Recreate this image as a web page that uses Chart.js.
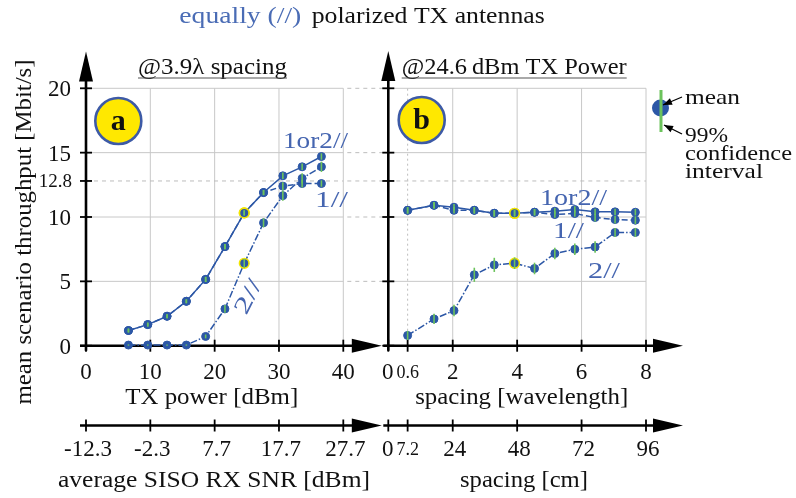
<!DOCTYPE html>
<html><head><meta charset="utf-8">
<script src="https://cdn.jsdelivr.net/npm/chart.js@4"></script>
<style>body{margin:0;background:#fff}#wrap{position:relative;width:796px;height:498px}canvas{position:absolute;left:0;top:0}</style>
</head><body>
<div id="wrap"><canvas id="c1" width="796" height="498"></canvas><canvas id="c2" width="796" height="498"></canvas></div>
<script>
// ---------- data ----------
const txPower = [6.6, 9.6, 12.6, 15.6, 18.6, 21.6, 24.6, 27.6, 30.6, 33.6, 36.6];
const tx1or2  = [1.18, 1.64, 2.29, 3.45, 5.15, 7.7, 10.32, 11.9, 13.2, 13.9, 14.7];
const tx1     = [1.18, 1.64, 2.29, 3.45, 5.15, 7.7, 10.32, 11.9, 12.4, 12.6, 12.6];
const tx2     = [0.05, 0.05, 0.05, 0.05, 0.72, 2.86, 6.4, 9.55, 11.66, 13.0, 13.9];
const txCi1or2 = [0.15, 0.15, 0.15, 0.15, 0.2, 0.2, 0.2, 0.2, 0.25, 0.25, 0.25];
const txCi1    = [0.15, 0.15, 0.15, 0.15, 0.2, 0.2, 0.2, 0.2, 0.3, 0.3, 0.25];
const txCi2    = [0.05, 0.05, 0.05, 0.05, 0.15, 0.3, 0.35, 0.35, 0.4, 0.4, 0.4];

const spacingLambda = [0.6, 1.42, 2.04, 2.67, 3.29, 3.92, 4.54, 5.17, 5.79, 6.42, 7.04, 7.67];
const sp1or2 = [10.52, 10.91, 10.76, 10.52, 10.29, 10.29, 10.37, 10.45, 10.58, 10.4, 10.4, 10.37];
const sp1    = [10.52, 10.91, 10.52, 10.52, 10.29, 10.29, 10.37, 10.19, 10.27, 9.96, 9.8, 9.75];
const sp2    = [0.8, 2.08, 2.73, 5.51, 6.28, 6.41, 6.0, 7.16, 7.49, 7.67, 8.8, 8.8];
const spCi1or2 = [0.25, 0.25, 0.25, 0.25, 0.25, 0.25, 0.25, 0.25, 0.25, 0.25, 0.25, 0.25];
const spCi1    = [0.25, 0.25, 0.25, 0.25, 0.25, 0.25, 0.25, 0.25, 0.25, 0.3, 0.3, 0.3];
const spCi2    = [0.35, 0.4, 0.45, 0.55, 0.55, 0.45, 0.45, 0.45, 0.45, 0.45, 0.35, 0.35];

const highlightTx = 24.6;
const highlightLambda = 3.92;

const txTicks = [0, 10, 20, 30, 40];
const snrTicks = [-12.3, -2.3, 7.7, 17.7, 27.7];
const snrOffset = 12.3;
const yTicks = [0, 5, 10, 15, 20];
const yRef = 12.8;
const lambdaTicks = [0, 0.6, 2, 4, 6, 8];
const cmTicks = [0, 7.2, 24, 48, 72, 96];
const cmPerLambda = 12;

// ---------- styles ----------
const BLUE = '#2c57a6', LBLUE = '#4565b0', GREEN = '#6cc35c', YEL = '#f2e600', GRID = '#c8c8c8';
const FONT = '"Liberation Serif", "DejaVu Serif", serif';

function txt(ctx, s, x, y, o = {}) {
  ctx.save();
  ctx.font = (o.style || '') + ' ' + (o.size || 23) + 'px ' + FONT;
  ctx.fillStyle = o.color || '#111';
  ctx.textBaseline = o.base || 'alphabetic';
  const w = ctx.measureText(s).width;
  const sx = o.w ? o.w / w : (o.sx || 1);
  ctx.translate(x, y);
  if (o.rot) ctx.rotate(o.rot);
  ctx.scale(sx, 1);
  ctx.textAlign = o.align || 'center';
  ctx.fillText(s, 0, 0);
  ctx.restore();
}
function line(ctx, x1, y1, x2, y2) { ctx.beginPath(); ctx.moveTo(x1, y1); ctx.lineTo(x2, y2); ctx.stroke(); }
function hAxis(ctx, x1, tip, y) {
  ctx.save(); ctx.strokeStyle = '#000'; ctx.fillStyle = '#000'; ctx.lineWidth = 2.6;
  line(ctx, x1, y, tip - 26, y);
  ctx.beginPath(); ctx.moveTo(tip, y); ctx.lineTo(tip - 30, y - 7); ctx.lineTo(tip - 30, y + 7); ctx.closePath(); ctx.fill();
  ctx.restore();
}
function vAxis(ctx, x, y1, tip) {
  ctx.save(); ctx.strokeStyle = '#000'; ctx.fillStyle = '#000'; ctx.lineWidth = 2.6;
  line(ctx, x, y1, x, tip + 26);
  ctx.beginPath(); ctx.moveTo(x, tip); ctx.lineTo(x - 7, tip + 30); ctx.lineTo(x + 7, tip + 30); ctx.closePath(); ctx.fill();
  ctx.restore();
}
function tickV(ctx, x, y) { ctx.save(); ctx.strokeStyle = '#000'; ctx.lineWidth = 1.8; line(ctx, x, y - 6, x, y + 6); ctx.restore(); }
function tickH(ctx, x, y) { ctx.save(); ctx.strokeStyle = '#000'; ctx.lineWidth = 1.8; line(ctx, x - 6, y, x + 6, y); ctx.restore(); }
function badge(ctx, cx, cy, letter) {
  ctx.save(); ctx.beginPath(); ctx.arc(cx, cy, 23, 0, Math.PI * 2);
  ctx.fillStyle = '#ffe800'; ctx.fill(); ctx.lineWidth = 2.6; ctx.strokeStyle = '#3d5aa6'; ctx.stroke(); ctx.restore();
  txt(ctx, letter, cx, cy + 9, { size: 30, style: 'bold', color: '#111' });
}

function ds(xs, ys, ci, dash, hl) {
  return {
    data: xs.map((v, i) => ({ x: v, y: ys[i] })),
    ci: ci,
    borderColor: BLUE, backgroundColor: BLUE, borderWidth: 1.5, borderDash: dash,
    pointRadius: xs.map(v => v === hl ? 4.8 : 4),
    pointBorderWidth: xs.map(v => v === hl ? 1.6 : 1),
    pointBorderColor: xs.map(v => v === hl ? YEL : BLUE),
    pointBackgroundColor: BLUE, clip: false, tension: 0
  };
}
const errorBars = {
  id: 'errorBars',
  afterDatasetsDraw(chart) {
    const ctx = chart.ctx, ys = chart.scales.y;
    ctx.save(); ctx.strokeStyle = GREEN; ctx.lineWidth = 1.6;
    chart.data.datasets.forEach((d, i) => {
      chart.getDatasetMeta(i).data.forEach((p, j) => {
        const v = d.data[j].y, c = d.ci[j];
        line(ctx, p.x, ys.getPixelForValue(v - c), p.x, ys.getPixelForValue(v + c));
      });
    });
    ctx.restore();
  }
};
const baseOpts = (pad, xmax) => ({
  responsive: false, animation: false, events: [], devicePixelRatio: 1,
  layout: { padding: pad },
  plugins: { legend: { display: false }, tooltip: { enabled: false } },
  scales: { x: { type: 'linear', min: 0, max: xmax, display: false }, y: { type: 'linear', min: 0, max: 20, display: false } }
});

// ---------- left chart ----------
const leftDeco = {
  id: 'leftDeco',
  beforeDatasetsDraw(chart) {
    const ctx = chart.ctx, X = v => chart.scales.x.getPixelForValue(v), Y = v => chart.scales.y.getPixelForValue(v);
    const xmax = txTicks[txTicks.length - 1], ymax = yTicks[yTicks.length - 1];
    ctx.save(); ctx.strokeStyle = GRID; ctx.lineWidth = 1;
    txTicks.slice(1).forEach(v => line(ctx, X(v), Y(0), X(v), Y(ymax)));
    yTicks.slice(1).forEach(v => line(ctx, X(0), Y(v), X(xmax), Y(v)));
    ctx.setLineDash([4, 4]); ctx.strokeStyle = '#bdbdbd';
    line(ctx, X(0), Y(yRef), X(xmax), Y(yRef));
    ctx.restore();
    // axes
    const tipX = X(xmax) + 38.5;
    hAxis(ctx, X(0) - 6, tipX, Y(0));
    vAxis(ctx, X(0), Y(0) + 5, 51.5);
    txTicks.forEach(v => { tickV(ctx, X(v), Y(0)); txt(ctx, String(v), X(v), 379, { size: 23 }); });
    [...yTicks, yRef].forEach(v => tickH(ctx, X(0), Y(v)));
    yTicks.forEach(v => txt(ctx, String(v), 71, Y(v) + 8, { size: 23, align: 'right' }));
    txt(ctx, yRef.toFixed(1), 72, Y(yRef) + 6.5, { size: 19, align: 'right' });
    // secondary SNR axis
    const y2 = 425.5;
    hAxis(ctx, X(0) - 6, tipX, y2);
    snrTicks.forEach(v => { tickV(ctx, X(v + snrOffset), y2); txt(ctx, v.toFixed(1), X(v + snrOffset) + 2, 455.5, { size: 23 }); });
    txt(ctx, 'TX power [dBm]', 211.7, 403.5, { w: 173 });
    txt(ctx, 'average SISO RX SNR [dBm]', 214, 486.5, { w: 312 });
    // y title
    txt(ctx, 'mean scenario throughput [Mbit/s]', 31, 232, { w: 345, rot: -Math.PI / 2 });
    // titles
    txt(ctx, 'equally (//)', 179.3, 23, { w: 122, align: 'left', color: '#4a6cb5' });
    txt(ctx, 'polarized TX antennas', 311.7, 23, { w: 233, align: 'left' });
    txt(ctx, '@3.9\u03bb spacing', 138, 73.5, { w: 149, align: 'left' });
    ctx.save(); ctx.strokeStyle = '#555'; ctx.lineWidth = 1.2; line(ctx, 138, 78, 287, 78); ctx.restore();
  },
  afterDraw(chart) {
    const ctx = chart.ctx;
    badge(ctx, 118.3, 121, 'a');
    txt(ctx, '1or2//', 283, 148, { w: 65, align: 'left', color: LBLUE });
    txt(ctx, '1//', 315, 206.5, { w: 33, align: 'left', color: LBLUE });
    txt(ctx, '2//', 249, 297, { w: 36, base: 'middle', rot: -1.1, color: LBLUE });
  }
};
const leftChart = new Chart(document.getElementById('c1'), {
  type: 'line',
  data: { datasets: [ds(txPower, tx2, txCi2, [7, 2, 1.5, 2], highlightTx), ds(txPower, tx1, txCi1, [6, 3], highlightTx), ds(txPower, tx1or2, txCi1or2, [], highlightTx)] },
  options: baseOpts({ left: 86, right: 796 - 343.3, top: 88.3, bottom: 498 - 345.7 }, 40),
  plugins: [leftDeco, errorBars]
});

// ---------- right chart ----------
const rightDeco = {
  id: 'rightDeco',
  beforeDatasetsDraw(chart) {
    const ctx = chart.ctx, X = v => chart.scales.x.getPixelForValue(v), Y = v => chart.scales.y.getPixelForValue(v);
    const xmax = lambdaTicks[lambdaTicks.length - 1], ymax = yTicks[yTicks.length - 1];
    const lx40 = leftChart.scales.x.getPixelForValue(txTicks[txTicks.length - 1]);
    ctx.save(); ctx.strokeStyle = GRID; ctx.lineWidth = 1;
    lambdaTicks.slice(2).forEach(v => line(ctx, X(v), Y(0), X(v), Y(ymax)));
    yTicks.slice(1).forEach(v => line(ctx, X(0), Y(v), X(xmax), Y(v)));
    ctx.setLineDash([4, 4]); ctx.strokeStyle = '#bdbdbd';
    line(ctx, X(0), Y(yRef), X(xmax), Y(yRef));
    [...yTicks.slice(1), yRef].forEach(v => line(ctx, lx40 + 4, Y(v), X(0), Y(v)));
    ctx.setLineDash([2, 3]);
    line(ctx, X(lambdaTicks[1]), Y(0), X(lambdaTicks[1]), Y(ymax));
    ctx.restore();
    const tipX = X(xmax) + 37;
    hAxis(ctx, X(0) - 5, tipX, Y(0));
    vAxis(ctx, X(0), Y(0) + 5, 51);
    lambdaTicks.forEach(v => {
      tickV(ctx, X(v), Y(0));
      if (v % 1 === 0) txt(ctx, String(v), X(v) - (v === 0 ? 0.5 : 0), 379, { size: 23 });
      else txt(ctx, String(v), X(v), 378, { size: 18 });
    });
    [...yTicks, yRef].forEach(v => tickH(ctx, X(0), Y(v)));
    const y2 = 425.5;
    hAxis(ctx, X(0) - 5, tipX, y2);
    cmTicks.forEach(v => {
      tickV(ctx, X(v / cmPerLambda), y2);
      if (v % 1 === 0) txt(ctx, String(v), X(v / cmPerLambda) - (v === 0 ? 0.5 : 0) + (v > 0 ? 2 : 0), 455.5, { size: 23 });
      else txt(ctx, v.toFixed(1), X(v / cmPerLambda), 454.5, { size: 18 });
    });
    txt(ctx, 'spacing [wavelength]', 521.7, 403.5, { w: 213 });
    txt(ctx, 'spacing [cm]', 524, 486.5, { w: 128 });
    txt(ctx, '@24.6\u2009dBm TX Power', 401.7, 73.5, { w: 225, align: 'left' });
    ctx.save(); ctx.strokeStyle = '#555'; ctx.lineWidth = 1.2; line(ctx, 401.7, 78, 626.7, 78); ctx.restore();
  },
  afterDraw(chart) {
    const ctx = chart.ctx;
    badge(ctx, 421.7, 120, 'b');
    txt(ctx, '1or2//', 540, 205, { w: 67, align: 'left', color: LBLUE });
    txt(ctx, '1//', 553, 238, { w: 31, align: 'left', color: LBLUE });
    txt(ctx, '2//', 588, 278, { w: 32, align: 'left', color: LBLUE });
    // legend
    ctx.save();
    ctx.beginPath(); ctx.arc(660.5, 108, 8.5, 0, Math.PI * 2); ctx.fillStyle = BLUE; ctx.fill();
    ctx.strokeStyle = GREEN; ctx.lineWidth = 3; line(ctx, 661, 90, 661, 132);
    ctx.strokeStyle = '#000'; ctx.fillStyle = '#000'; ctx.lineWidth = 1.3;
    const arrow = (x1, y1, x2, y2) => {
      line(ctx, x1, y1, x2, y2);
      const a = Math.atan2(y2 - y1, x2 - x1), L = 9, h = 3.5;
      ctx.beginPath(); ctx.moveTo(x2, y2);
      ctx.lineTo(x2 - L * Math.cos(a) + h * Math.sin(a), y2 - L * Math.sin(a) - h * Math.cos(a));
      ctx.lineTo(x2 - L * Math.cos(a) - h * Math.sin(a), y2 - L * Math.sin(a) + h * Math.cos(a));
      ctx.closePath(); ctx.fill();
    };
    arrow(682, 97, 663, 105);
    arrow(682, 134, 664, 125);
    ctx.restore();
    txt(ctx, 'mean', 685, 104, { w: 55, align: 'left', size: 22 });
    txt(ctx, '99%', 685, 142, { w: 43, align: 'left', size: 22 });
    txt(ctx, 'confidence', 685, 159.5, { w: 107, align: 'left', size: 22 });
    txt(ctx, 'interval', 685, 178, { w: 78, align: 'left', size: 22 });
  }
};
new Chart(document.getElementById('c2'), {
  type: 'line',
  data: { datasets: [ds(spacingLambda, sp2, spCi2, [7, 2, 1.5, 2], highlightLambda), ds(spacingLambda, sp1, spCi1, [6, 3], highlightLambda), ds(spacingLambda, sp1or2, spCi1or2, [], highlightLambda)] },
  options: baseOpts({ left: 388.3, right: 796 - 646, top: 88.3, bottom: 498 - 345.7 }, 8),
  plugins: [rightDeco, errorBars]
});
</script>
</body></html>
